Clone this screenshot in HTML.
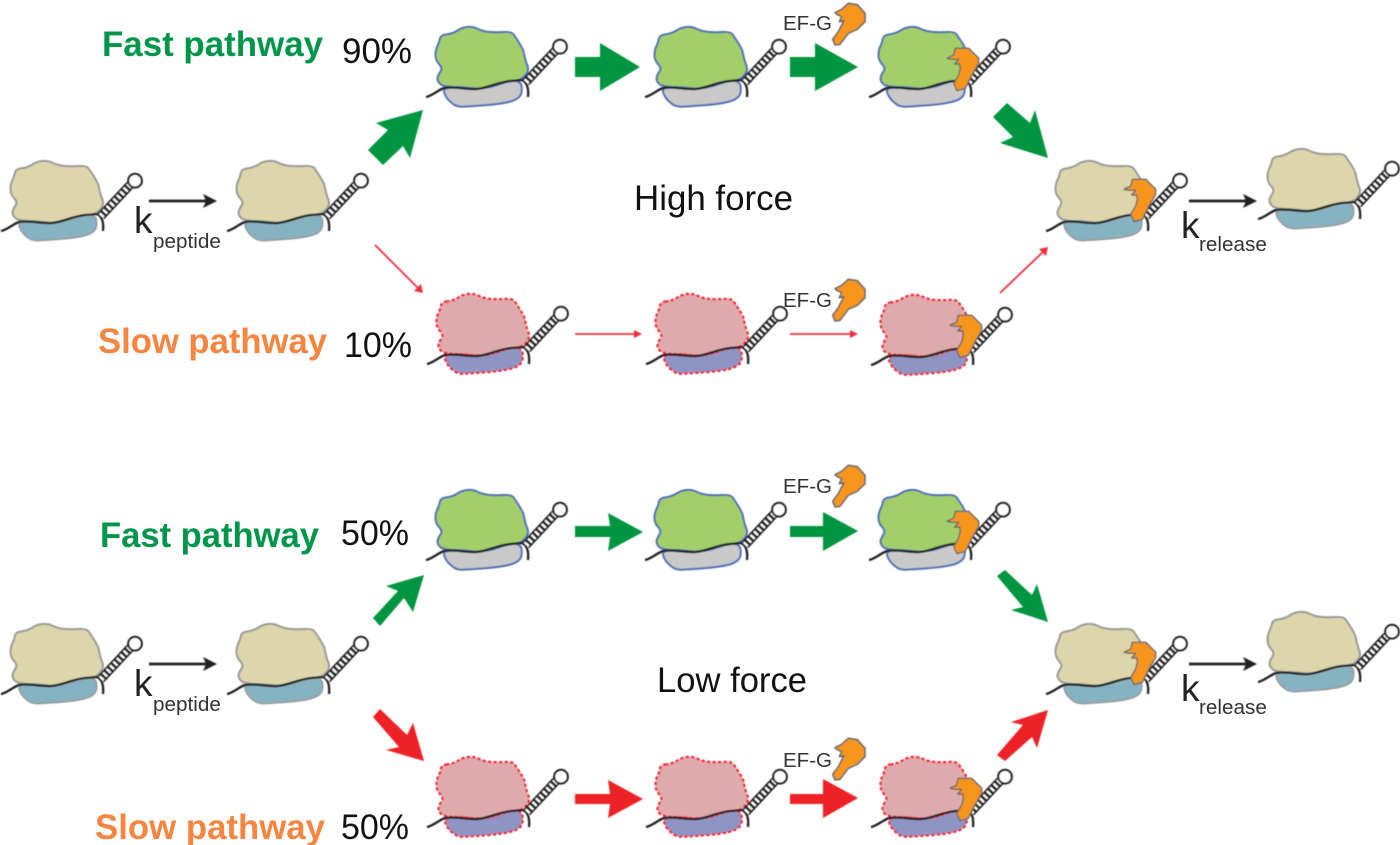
<!DOCTYPE html>
<html>
<head>
<meta charset="utf-8">
<style>
html,body{margin:0;padding:0;background:#fff;width:1400px;height:845px;overflow:hidden}
svg{display:block}
text{font-family:"Liberation Sans",sans-serif}
.fast{font-weight:bold;font-size:35px;fill:#00964a}
.slow{font-weight:bold;font-size:35px;fill:#f58540}
.pct{font-size:35px;fill:#111}
.k{font-size:37px;fill:#222}
.sub{font-size:20.7px;fill:#333}
.ef{font-size:20.5px;fill:#333}
</style>
</head>
<body>
<svg width="1400" height="845" viewBox="0 0 1400 845" xmlns="http://www.w3.org/2000/svg">
<defs>
<filter id="b" x="-5%" y="-5%" width="110%" height="110%"><feGaussianBlur stdDeviation="0.5"/></filter>
<path id="big" d="M26,34.5 Q33,33.5 37.5,30.5 Q42,27.5 47.5,27 Q53,26.5 58,29 Q63,31.5 70,32 Q77,32.5 84,32 Q92,31.5 94,35 Q96,38 98,41 Q100,44 101.5,47 Q103.5,50 104,53.5 Q104.5,57 106.5,63.5 Q110,70 105.5,75 Q102,80 94.5,80.75 Q87,81.5 79.5,84.25 Q72,87 64.5,88 Q57,89 49.5,88 Q42,87 34.5,87 Q27,87 21.5,85 Q17.5,82 17.5,78.5 Q18,75 20.5,71.5 Q23,68 19,64 Q15.5,60 15.5,55 Q15.5,50 17.5,46 Q19.5,42 20,38.5 Q21,35 26,34.5Z"/>
<path id="small" d="M33,87.5 Q42,87 49.5,88 Q57,89 64.5,88 Q72,87 79.5,84.25 Q87,81.5 93.5,81 Q100.5,80.5 101.5,86 Q102.5,92 100,96 Q97,100 88.5,102 Q80,104 67.5,105 Q55,106 46,106.5 Q37,107.5 32.5,103.5 Q28,100 26,96.5 Q24,93 24,90.5 Q24,88 33,87.5Z"/>
<g id="rna">
  <path d="M6,97 C12,96 18,90 24,88 C34,86 46,90 57,89 C68,88 78,82 90,81 L102,80 C106,82 109,86 108,97" fill="none" stroke="#222" stroke-width="2.3"/>
  <line x1="106" y1="82" x2="135" y2="51" stroke="#222" stroke-width="9"/>
  <line x1="106" y1="82" x2="135" y2="51" stroke="#fff" stroke-width="5.6" stroke-dasharray="2.2 2.8"/>
  <circle cx="140" cy="46.7" r="6.8" fill="#fff" stroke="#222" stroke-width="2.2"/>
</g>
<g id="green">
  <use href="#big" fill="#a3cf6b" stroke="#4f6fb5" stroke-width="2" stroke-linejoin="round"/>
  <use href="#small" fill="#c9c9c9" stroke="#4f6fb5" stroke-width="2" stroke-linejoin="round"/>
  <use href="#rna"/>
</g>
<g id="tan">
  <use href="#big" fill="#dcd6aa" stroke="#999" stroke-width="2" stroke-linejoin="round"/>
  <use href="#small" fill="#86b3c2" stroke="#999" stroke-width="1.5" stroke-linejoin="round"/>
  <use href="#rna"/>
</g>
<g id="red">
  <use href="#big" fill="#dfaaab" stroke="#ee2d3c" stroke-width="2.4" stroke-dasharray="1.5 4" stroke-linecap="round" stroke-linejoin="round"/>
  <use href="#small" fill="#8e95c4" stroke="#ee2d3c" stroke-width="2.4" stroke-dasharray="1.5 4" stroke-linecap="round" stroke-linejoin="round"/>
  <use href="#rna"/>
</g>
<polygon id="efg" fill="#f7941e" stroke="#6b6b6b" stroke-width="1.6" stroke-linejoin="round" points="65,12.7 71.7,9.3 78.3,3.3 87.3,4.7 95,13.3 95,21.7 87.3,29.3 78.3,33.3 70,44.3 65,45 62.7,39.3 68.3,31.7 71.7,25 74,20.7 69.3,21.7 71.7,16.7 66.7,14.3"/>
<polygon id="efb" fill="#f7941e" stroke="#6b6b6b" stroke-width="1.4" stroke-linejoin="round" points="65,13.3 71.7,10 73.3,3.3 86.7,3.3 96.7,13.3 96.7,18.3 90,30 83.3,43.3 75,45.7 71.7,38.3 76.7,30 78.3,23.3 77.7,19 72.7,19 76.7,14.3 70,14.3"/>
</defs>

<g filter="url(#b)">
  <!-- high force -->
  <use href="#tan" x="-5" y="134"/>
  <use href="#tan" x="221" y="134"/>
  <use href="#green" x="420" y="0"/>
  <use href="#green" x="639" y="0"/>
  <use href="#green" x="863" y="0"/>
  <use href="#efg" x="770" y="0"/>
  <use href="#efb" x="882" y="45"/>
  <use href="#red" x="421" y="267"/>
  <use href="#red" x="640" y="267"/>
  <use href="#red" x="865" y="268"/>
  <use href="#efg" x="770" y="276"/>
  <use href="#efb" x="885" y="312"/>
  <use href="#tan" x="1040" y="134"/>
  <use href="#efb" x="1059" y="176"/>
  <use href="#tan" x="1252" y="122"/>

  <!-- low force -->
  <use href="#tan" x="-5" y="597"/>
  <use href="#tan" x="221" y="597"/>
  <use href="#green" x="420" y="463"/>
  <use href="#green" x="639" y="463"/>
  <use href="#green" x="863" y="463"/>
  <use href="#efg" x="770" y="462"/>
  <use href="#efb" x="882" y="508"/>
  <use href="#red" x="421" y="730"/>
  <use href="#red" x="640" y="730"/>
  <use href="#red" x="865" y="730"/>
  <use href="#efg" x="770" y="735"/>
  <use href="#efb" x="885" y="775"/>
  <use href="#tan" x="1040" y="597"/>
  <use href="#efb" x="1059" y="639"/>
  <use href="#tan" x="1252" y="585"/>

  <!-- green arrows, top -->
  <polygon fill="#00953f" points="368,150 388,130 376,123 423,110 410,158 403,146 383,165"/>
  <polygon fill="#00953f" points="575,57 600,57 600,43 640,67 600,91 600,77 575,77"/>
  <polygon fill="#00953f" points="790,57 815,57 815,43 858,67 815,91 815,77 790,77"/>
  <polygon fill="#00953f" points="993,117 1007,103 1030,123 1035,110 1048,158 1000,143 1013,137"/>

  <!-- thin red arrows -->
  <g stroke="#ee2d3c" stroke-width="1.8" fill="none">
    <line x1="375" y1="245" x2="420" y2="290"/>
    <line x1="575" y1="334" x2="637" y2="334"/>
    <line x1="790" y1="334" x2="853" y2="334"/>
    <line x1="1000" y1="293" x2="1045" y2="250"/>
  </g>
  <g fill="#ee2d3c">
    <polygon points="423,293 414,291 421,284"/>
    <polygon points="642,334 634,330 634,338"/>
    <polygon points="858,334 850,330 850,338"/>
    <polygon points="1048,247 1039,249 1046,256"/>
  </g>

  <!-- green arrows, bottom -->
  <polygon fill="#00953f" points="373,618 380,626 404,598 413,612 424,575 386,586 398,591"/>
  <polygon fill="#00953f" points="575,526 610,526 608,513 643,532 608,551 610,537 575,537"/>
  <polygon fill="#00953f" points="790,526 823,526 823,512 858,531 823,551 823,537 790,537"/>
  <polygon fill="#00953f" points="997,576 1005,570 1032,595 1037,584 1048,622 1011,610 1023,607"/>

  <!-- red arrows, bottom -->
  <polygon fill="#ee2027" points="373,717 380,709 407,735 413,723 424,761 386,750 399,747"/>
  <polygon fill="#ee2027" points="575,794 610,794 608,780 643,799 608,818 610,804 575,804"/>
  <polygon fill="#ee2027" points="790,794 823,794 823,779 858,798 823,818 823,804 790,804"/>
  <polygon fill="#ee2027" points="997,755 1005,761 1032,737 1037,748 1048,710 1011,722 1023,725"/>

  <!-- black arrows -->
  <g stroke="#222" stroke-width="2.8">
    <line x1="149" y1="201" x2="208" y2="201"/>
    <line x1="1189" y1="201" x2="1248" y2="201"/>
    <line x1="149" y1="664" x2="208" y2="664"/>
    <line x1="1189" y1="664" x2="1248" y2="664"/>
  </g>
  <g fill="#222">
    <polygon points="217,201 203,194 206,201 203,208"/>
    <polygon points="1257,201 1243,194 1246,201 1243,208"/>
    <polygon points="217,664 203,657 206,664 203,671"/>
    <polygon points="1257,664 1243,657 1246,664 1243,671"/>
  </g>
</g>

<!-- labels -->
<text class="fast" x="102" y="56" textLength="221" lengthAdjust="spacingAndGlyphs">Fast pathway</text>
<text class="pct" x="342" y="63" textLength="70" lengthAdjust="spacingAndGlyphs">90%</text>
<text class="slow" x="98" y="353" textLength="229" lengthAdjust="spacingAndGlyphs">Slow pathway</text>
<text class="pct" x="344" y="357" textLength="68" lengthAdjust="spacingAndGlyphs">10%</text>
<text class="pct" x="634" y="210" textLength="159" lengthAdjust="spacingAndGlyphs">High force</text>
<text class="fast" x="100" y="547" textLength="219" lengthAdjust="spacingAndGlyphs">Fast pathway</text>
<text class="pct" x="341" y="545" textLength="68" lengthAdjust="spacingAndGlyphs">50%</text>
<text class="slow" x="95" y="839" textLength="230" lengthAdjust="spacingAndGlyphs">Slow pathway</text>
<text class="pct" x="341" y="839" textLength="68" lengthAdjust="spacingAndGlyphs">50%</text>
<text class="pct" x="657" y="692" textLength="150" lengthAdjust="spacingAndGlyphs">Low force</text>

<text class="ef" x="783" y="30" textLength="49" lengthAdjust="spacingAndGlyphs">EF-G</text>
<text class="ef" x="783" y="307" textLength="49" lengthAdjust="spacingAndGlyphs">EF-G</text>
<text class="ef" x="783" y="493" textLength="49" lengthAdjust="spacingAndGlyphs">EF-G</text>
<text class="ef" x="783" y="767" textLength="49" lengthAdjust="spacingAndGlyphs">EF-G</text>

<text class="k" x="134" y="233">k</text>
<text class="sub" x="153" y="248">peptide</text>
<text class="k" x="1181" y="238">k</text>
<text class="sub" x="1199" y="251">release</text>
<text class="k" x="134" y="696">k</text>
<text class="sub" x="153" y="711">peptide</text>
<text class="k" x="1181" y="701">k</text>
<text class="sub" x="1199" y="714">release</text>
</svg>
</body>
</html>
